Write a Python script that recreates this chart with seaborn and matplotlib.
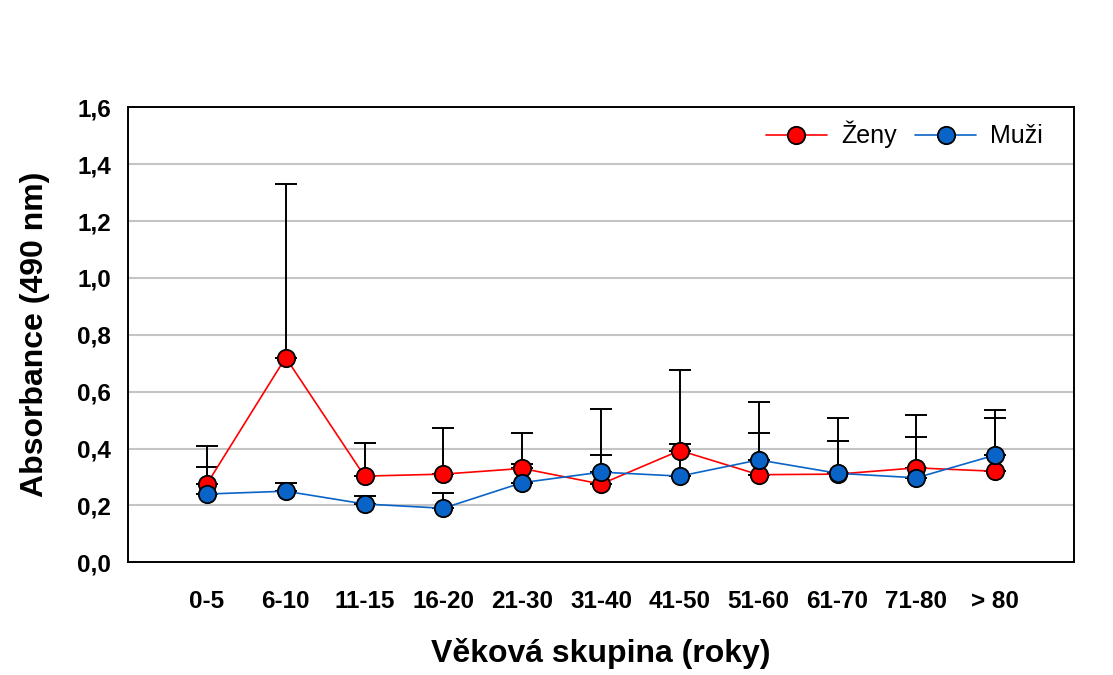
import numpy as np
import pandas as pd
import matplotlib
matplotlib.use("Agg")
import matplotlib.pyplot as plt
import seaborn as sns
from matplotlib.ticker import FuncFormatter

# Data
groups = ["0-5", "6-10", "11-15", "16-20", "21-30", "31-40",
          "41-50", "51-60", "61-70", "71-80", "> 80"]
zeny = [0.275, 0.72, 0.303, 0.31, 0.33, 0.275, 0.393, 0.308, 0.31, 0.332, 0.32]
zeny_top = [0.41, 1.33, 0.42, 0.473, 0.455, 0.54, 0.677, 0.564, 0.507, 0.518, 0.508]
muzi = [0.24, 0.25, 0.205, 0.19, 0.28, 0.317, 0.303, 0.36, 0.313, 0.297, 0.377]
muzi_top = [0.335, 0.28, 0.233, 0.243, 0.345, 0.377, 0.416, 0.455, 0.426, 0.44, 0.535]

sns.set_style("white")
plt.rcParams['font.family'] = ['Liberation Sans', 'DejaVu Sans']
plt.rcParams['text.color'] = 'black'
plt.rcParams['axes.labelcolor'] = 'black'
plt.rcParams['xtick.color'] = 'black'
plt.rcParams['ytick.color'] = 'black'

df = pd.DataFrame({
    'pos': list(range(len(groups))) * 2,
    'val': zeny + muzi,
    'sex': ['Ženy'] * len(groups) + ['Muži'] * len(groups),
})
colors = {'Ženy': '#ff0000', 'Muži': '#0a64c8'}

fig = plt.figure(figsize=(11.13, 6.75), dpi=100)
ax = fig.add_axes([0.115, 0.167, 0.85, 0.674])

# grid lines
for yv in np.arange(0.2, 1.5, 0.2):
    ax.axhline(yv, color='#c4c4c4', lw=1.5, zorder=0)

# upper-only error bars
x = np.arange(len(groups))
for mean, top in [(zeny, zeny_top), (muzi, muzi_top)]:
    mean = np.array(mean)
    up = np.array(top) - mean
    ax.errorbar(x, mean, yerr=[np.zeros_like(up), up], fmt='none',
                ecolor='black', elinewidth=1.4, capsize=8, capthick=1.4, zorder=1)

sns.lineplot(data=df, x='pos', y='val', hue='sex', palette=colors,
             marker='o', markersize=12.5, markeredgecolor='black',
             markeredgewidth=1.3, linewidth=1.2, ax=ax, zorder=3)

ax.set_xlim(-1, 11)
ax.set_ylim(0, 1.6)
ax.set_xticks(x)
ax.set_xticklabels(groups)
ax.set_yticks(np.arange(0, 1.61, 0.2))
ax.yaxis.set_major_formatter(FuncFormatter(lambda v, p: f"{v:.1f}".replace('.', ',')))

for s in ax.spines.values():
    s.set_color('black')
    s.set_linewidth(1.4)
ax.tick_params(axis='both', direction='out', length=7, width=1.2, color='black',
               labelcolor='black', labelsize=17.5, pad=5)
ax.tick_params(axis='x', pad=13)
for lab in ax.get_xticklabels() + ax.get_yticklabels():
    lab.set_fontweight('bold')

ax.set_xlabel('Věková skupina (roky)', fontsize=23, fontweight='bold', labelpad=18)
ax.set_ylabel('Absorbance (490 nm)', fontsize=23, fontweight='bold', labelpad=20)

leg = ax.legend(loc='upper right', frameon=False, fontsize=18, ncol=2,
                handlelength=2.44, columnspacing=0.76, handletextpad=0.56,
                borderaxespad=0, bbox_to_anchor=(0.978, 0.992))
for h in leg.legend_handles:
    h.set_markeredgecolor('black')
for t in leg.get_texts():
    t.set_color('black')

fig.savefig('out.png', dpi=100)
